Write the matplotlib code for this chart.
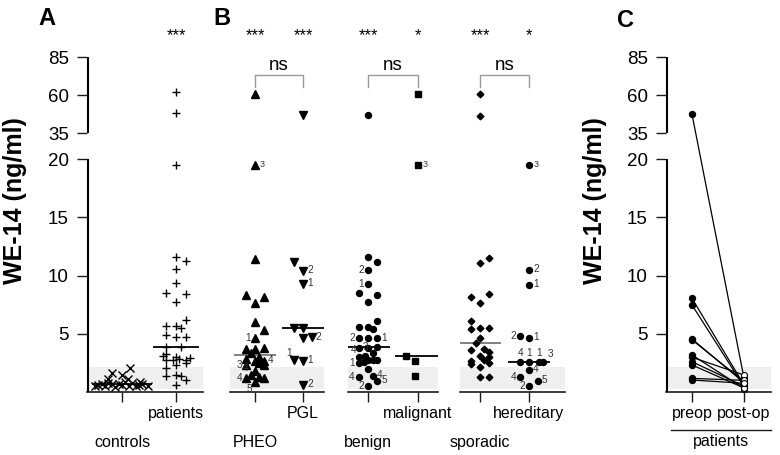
"""WE-14 plasma levels: controls vs patients, tumour subgroups, pre/post-op pairs."""
import numpy as np
import matplotlib
matplotlib.use("Agg")
import matplotlib.pyplot as plt

plt.rcParams["font.family"] = ["Liberation Sans", "DejaVu Sans"]

# ---- data (ng/ml); *_col = horizontal slot of a dot in its scatter column ----
controls = [2.03, 1.6, 1.46, 1.09, 1.09, 0.89,
            0.5, 0.6, 0.7, 0.55, 0.8, 0.65, 0.45, 0.7, 0.6, 0.9, 0.5, 0.75, 0.55, 0.6, 0.65, 0.5]
controls_col = [0.85, -1.05, 0, -1.45, 0.65, 1.85,
                -2.8, -2.45, -2.1, -1.75, -1.4, -1.05, -0.7, -0.35, 0, 0.35, 0.7, 1.05, 1.4, 1.75, 2.1, 2.7]

patients = [62, 48, 19.5, 11.6, 11.27, 10.56, 9.33, 8.53, 8.41, 7.75, 6.18, 5.67, 5.67, 5.49,
            4.86, 4.75, 4.75, 3.89, 3.85, 3.26, 3.09, 2.98, 2.75, 2.75, 2.8, 2.75, 2.9,
            2.46, 2.32, 2.03, 1.37, 1.46, 1.37, 1.03, 0.6]
patients_col = [0, 0, 0, 0, 1, 0, 0, -1, 1, 0, 1, -1, 0, 0.5,
                -1, 0, 1, -1, 0.5, -1, -1.3, 0, -1, -0.35, 0.35, 1, 1.4,
                1, 0, -1, -1, 0, 0.5, 1, 0]

pheo = [60.7, 19.5, 11.39, 8.33, 8.18, 7.61, 6.04, 5.32, 4.61, 3.66, 3.66, 3.8, 3.32, 2.98,
        2.8, 2.69, 2.66, 2.32, 2.46, 2.32, 1.83, 1.46, 1.23, 1.32, 1.23, 0.83]
pheo_col = [0, 0, 0, -1, 1, 0, 0, 1, 0, -1, 0, 1, -0.5, 0.5,
            -1, 0, 1, -1, 0.5, 1, 0, -0.5, -1, 0.5, 1, 0]
pheo_lab = ["", "3r", "", "", "", "", "", "", "1l", "", "", "", "", "",
            "", "", "4r", "3l", "", "", "", "4ul", "4l", "", "", "5dl"]

pgl = [47, 11.13, 10.41, 9.27, 5.5, 5.5, 4.61, 4.69, 2.75, 2.66, 0.6]
pgl_col = [0, -1, 0, 0, -1, 0, 0, 1, -1, 0, 0]
pgl_lab = ["", "", "2r", "1r", "", "", "", "2r", "1ul", "1r", "2r"]

benign = [47, 11.56, 11.19, 10.47, 9.24, 8.47, 8.33, 7.7, 6.09, 5.55, 5.55, 5.41,
          4.61, 4.61, 4.61, 3.75, 3.75, 3.85, 2.98, 3.09, 3.32, 2.46, 2.6, 2.75, 2.75, 2.75,
          1.95, 1.32, 1.37, 0.94, 0.52]
benign_col = [0, 0, 1, 0, 0, -1, 1, 0, 1, -1, 0, 0.5,
              -1, 0, 1, -1, 0, 1, -1, -0.3, 0.5, -1, -0.5, 0, 0.5, 1,
              0, -1, 0.5, 1, 0]
benign_lab = ["", "", "", "2l", "1l", "", "", "", "", "", "", "",
              "2l", "", "1r", "", "", "", "4ul", "3u", "", "1l", "", "", "", "",
              "", "4l", "4r", "5r", "2l"]

malignant = [61, 19.5, 3.09, 2.69, 1.37]
malignant_col = [0, 0, -1.3, -0.3, -0.3]
malignant_lab = ["", "3r", "", "", ""]

sporadic = [61, 46.5, 11.47, 11.1, 8.18, 8.38, 7.67, 6.09, 5.38, 5.52, 5.52, 4.61,
            4.2, 3.6, 3.72, 3.46, 3.09, 3.03, 2.69, 2.75, 2.4, 2.52, 2.12, 1.32, 1.32]
sporadic_col = [0, 0, 1, 0, -1, 1, 0, -1, -1, 0, 1, 0,
                -0.5, -1, 0.5, 1, 0, 1, -1, 0.5, -1, 1, 0, 0, 1]

hereditary = [19.5, 10.47, 9.18, 4.81, 4.66, 2.6, 2.6, 2.55, 2.55, 1.89, 1.32, 0.94, 0.52]
hereditary_col = [0, 0, 0, -1, 0, -1, 0, 1.1, 1.6, 0, -1, 1, 0]
hereditary_lab = ["3r", "2r", "1r", "2l", "1r", "4u", "1u", "1u", "3ur", "4r", "4l", "5r", "2l"]

preop = [47.3, 8.04, 7.47, 4.55, 4.48, 3.18, 2.98, 2.6, 2.32, 1.17, 1.03]
postop = [1.2, 0.6, 0.46, 0.8, 0.9, 0.3, 1.46, 0.5, 0.35, 1.0, 0.75]

ref_range = (0.3, 2.15)
y_ticks = [5, 10, 15, 20, 35, 60, 85]
y_segments = [(0, 20), (35, 85)]

# ---- broken y scale: 0-20 linear, squeezed gap 20-35, compressed 35-85 ----
brk_y = [-50, 0, 20, 35, 85, 400]
brk_f = [-50, 0, 20, 22.23, 28.76, 28.76 + 315 * 0.1305]


def fwd(y):
    return np.interp(y, brk_y, brk_f)


def inv(f):
    return np.interp(f, brk_f, brk_y)


W, H = 780, 455
fig = plt.figure(figsize=(7.8, 4.55), dpi=100)
AX_B, AX_H = (H - 392) / H, (392 - 57) / H
STEP = 0.18
INK = "#1a1a1a"
OFFSETS = {"r": (3, 0.5, "left", "center"), "l": (-3, 0, "right", "center"),
           "u": (0, 3, "center", "bottom"), "ur": (3, 2.5, "left", "bottom"),
           "ul": (-2, 1.5, "right", "bottom"), "dl": (-2, -1.5, "right", "top")}


def make_axes(left_px, right_px, t0_px, t1_px, names, low_first=True, yaxis=False):
    ax = fig.add_axes([left_px / W, AX_B, (right_px - left_px) / W, AX_H])
    unit = t1_px - t0_px
    ax.set_xlim((left_px - t0_px) / unit, (right_px - t0_px) / unit)
    ax.set_yscale("function", functions=(fwd, inv))
    ax.set_ylim(0, 85)
    ax.axhspan(*ref_range, color="#efefef", lw=0, zorder=0)
    for s in ("top", "right", "left"):
        ax.spines[s].set_visible(False)
    ax.spines["bottom"].set_color(INK)
    ax.spines["bottom"].set_linewidth(1.2)
    ax.set_xticks([0, 1], names)
    ax.tick_params(axis="x", length=7, width=1, color=INK, labelsize=11.5, pad=3)
    if yaxis:
        ax.set_yticks(y_ticks, [str(t) for t in y_ticks])
        ax.yaxis.set_minor_locator(matplotlib.ticker.NullLocator())
        ax.tick_params(axis="y", length=7, width=1, color=INK, labelsize=13.5, pad=6)
        ax.set_ylabel("WE-14 (ng/ml)", fontsize=18, fontweight="bold")
        # broken left axis line, one piece per y segment, a hair inside the left edge
        x_left = ax.get_xlim()[0] + 0.5 / unit
        for lo, hi in y_segments:
            ax.vlines(x_left, lo, hi, colors="black", linewidth=1.5, zorder=6, clip_on=False)
    else:
        ax.tick_params(axis="y", left=False, labelleft=False, which="both")
    if low_first:
        ax.xaxis.get_major_ticks()[0].set_pad(24)
    return ax


def swarm(ax, x, ys, cols, marker, ms, labs=None, med_color="black", half=0.43, **kw):
    ys = np.asarray(ys, dtype=float)
    xs = x + np.asarray(cols) * STEP
    ax.plot(xs, ys, ls="none", marker=marker, ms=ms, color="black", zorder=3, clip_on=False, **kw)
    ax.hlines(np.median(ys), x - half, x + half, color=med_color, lw=1.3, zorder=2)
    for xi, yi, lab in zip(xs, ys, labs or []):
        if lab:
            dx, dy, ha, va = OFFSETS[lab[1:]]
            ax.annotate(lab[0], (xi, yi), xytext=(dx, dy), textcoords="offset points",
                        ha=ha, va=va, fontsize=6.5 if yi > 15 else 7.2, color="#333333")


def stars(ax, x, s):
    ax.text(x, 96, s, ha="center", va="baseline", fontsize=12, clip_on=False)


def ns_bracket(ax):
    ax.plot([0, 0, 1, 1], [65, 73, 73, 65], color="#9a9a9a", lw=1, clip_on=False)
    ax.text(0.5, 74, "ns", ha="center", va="bottom", fontsize=13.5)


# ---- panel A ----
axA = make_axes(87, 203, 122, 176, ["controls", "patients"], yaxis=True)
axA.yaxis.set_label_coords(-0.52, 0.57)
swarm(axA, 0, controls, controls_col, "x", 5.5, mew=1, half=0.55)
swarm(axA, 1, patients, patients_col, "+", 6, mew=1)
stars(axA, 1, "***")

# ---- panel B ----
axB1 = make_axes(230, 324, 255, 303, ["PHEO", "PGL"])
swarm(axB1, 0, pheo, pheo_col, "^", 5.5, pheo_lab, med_color="#777777")
swarm(axB1, 1, pgl, pgl_col, "v", 5.5, pgl_lab)
stars(axB1, 0, "***")
stars(axB1, 1, "***")
ns_bracket(axB1)

axB2 = make_axes(348, 438, 368, 418, ["benign", "malignant"])
swarm(axB2, 0, benign, benign_col, "o", 4.3, benign_lab)
swarm(axB2, 1, malignant, malignant_col, "s", 4, malignant_lab, half=0.46)
stars(axB2, 0, "***")
stars(axB2, 1, "*")
ns_bracket(axB2)

axB3 = make_axes(460, 565, 480, 529, ["sporadic", "hereditary"])
swarm(axB3, 0, sporadic, sporadic_col, "D", 3.4, med_color="#777777")
swarm(axB3, 1, hereditary, hereditary_col, "o", 4.3, hereditary_lab)
stars(axB3, 0, "***")
stars(axB3, 1, "*")
ns_bracket(axB3)

# ---- panel C ----
axC = make_axes(666, 771, 692, 744, ["preop", "post-op"], low_first=False, yaxis=True)
axC.yaxis.set_label_coords(-0.56, 0.57)
for a, b in zip(preop, postop):
    axC.plot([0, 1], [a, b], color="black", lw=0.9, zorder=2)
axC.plot(np.zeros(len(preop)), preop, ls="none", marker="o", ms=4.3, color="black", zorder=3)
axC.plot(np.ones(len(postop)), postop, ls="none", marker="o", ms=4.3, mfc="white",
         mec="black", mew=0.8, zorder=3)
axC.plot([0.05, 1.0], [-0.113, -0.113], transform=axC.transAxes, color=INK, lw=1, clip_on=False)
axC.text(0.52, -0.147, "patients", transform=axC.transAxes, ha="center", va="center", fontsize=11.5)

for letter, xp, yp in (("A", 38, 7), ("B", 213, 7), ("C", 617, 9)):
    fig.text(xp / W, 1 - yp / H, letter, ha="left", va="top", fontsize=17, fontweight="bold")

fig.savefig("out.png", dpi=100)
